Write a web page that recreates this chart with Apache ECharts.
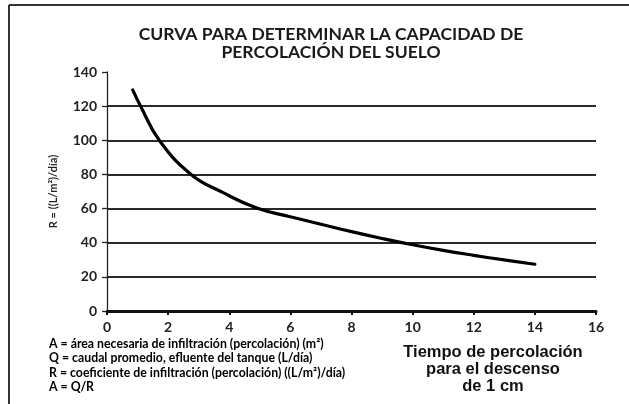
<!DOCTYPE html>
<html>
<head>
<meta charset="utf-8">
<script src="https://cdn.jsdelivr.net/npm/echarts@6/dist/echarts.min.js"></script>
<style>
  html, body { margin: 0; padding: 0; background: #fff; }
  #chart { width: 629px; height: 404px; }
</style>
</head>
<body>
<div id="chart"></div>
<script>
// Percolation time (min per 1 cm drop) and infiltration coefficient R
const tiempo = [0.84, 1.1, 1.71, 2.75, 3.8, 4.9, 6, 7, 8, 9, 10, 11, 12, 13, 14];
const coefR  = [129.5, 120, 100, 80, 69.3, 60.3, 55.2, 50.8, 46.5, 42.5, 38.8, 35.5, 32.6, 29.9, 27.4];

const yTicks = [0, 20, 40, 60, 80, 100, 120, 140];
const xTicks = [0, 2, 4, 6, 8, 10, 12, 14, 16];

const titulo = ['CURVA PARA DETERMINAR LA CAPACIDAD DE', 'PERCOLACIÓN DEL SUELO'];
const nombreY = 'R = ((L/m²)/día)';
const nombreX = ['Tiempo de percolación', 'para el descenso', 'de 1 cm'];
const notas = [
  'A = área necesaria de infiltración (percolación) (m²)',
  'Q = caudal promedio, efluente del tanque (L/día)',
  'R = coeficiente de infiltración (percolación) ((L/m²)/día)',
  'A = Q/R'
];

const chart = echarts.init(document.getElementById('chart'), null, { renderer: 'canvas' });

const fam = 'Lato';

// grid lines: one colour per tick, the top (140) line hidden
const gridColors = yTicks.map((v, i) => i === yTicks.length - 1 ? 'rgba(0,0,0,0)' : '#2a2a2a');

const notaGraphics = notas.map((t, i) => ({
  type: 'text',
  left: 49,
  top: 338 + i * 14.5,
  style: {
    text: t,
    font: 'bold 12.3px Lato',
    fontFamily: fam,
    fontWeight: 'bold',
    fontSize: 12.3,
    fill: '#000'
  }
}));

const nombreXGraphics = nombreX.map((t, i) => ({
  type: 'text',
  x: 493,
  y: 344 + i * 17,
  style: {
    text: t,
    fontFamily: '"Liberation Sans", Arial, sans-serif',
    fontWeight: 'bold',
    fontSize: 16.5,
    fill: '#111',
    align: 'center'
  }
}));

chart.setOption({
  animation: false,
  backgroundColor: '#fff',
  title: {
    text: titulo.join('\n'),
    left: 326,
    top: 20,
    textAlign: 'center',
    textStyle: { fontFamily: fam, fontWeight: 'bold', fontSize: 17.5, color: '#1a1a1a', lineHeight: 18 }
  },
  grid: { left: 107, right: 33, top: 72, bottom: 93, containLabel: false },
  xAxis: {
    type: 'value',
    min: 0, max: 16, interval: 2,
    axisLine: { show: true, lineStyle: { color: '#111', width: 3 } },
    axisTick: { show: true, length: 4, inside: false, lineStyle: { color: '#111', width: 2 } },
    axisLabel: {
      margin: 9,
      fontFamily: fam, fontWeight: 'bold', fontSize: 14, color: '#222',
      formatter: v => xTicks.includes(v) ? String(v) : ''
    },
    splitLine: { show: false }
  },
  yAxis: {
    type: 'value',
    min: 0, max: 140, interval: 20,
    name: nombreY,
    nameLocation: 'middle',
    nameGap: 48,
    nameRotate: 90,
    nameTextStyle: { fontFamily: fam, fontWeight: 'bold', fontSize: 11, color: '#222' },
    axisLine: { show: true, lineStyle: { color: '#222', width: 1.3 } },
    axisTick: { show: true, length: 5, lineStyle: { color: '#222', width: 1.3 } },
    axisLabel: {
      margin: 10,
      fontFamily: fam, fontWeight: 'bold', fontSize: 14, color: '#222',
      formatter: v => yTicks.includes(v) ? String(v) : ''
    },
    splitLine: { show: true, lineStyle: { color: gridColors, width: 2 } }
  },
  series: [{
    type: 'line',
    data: tiempo.map((t, i) => [t, coefR[i]]),
    smooth: 0.45,
    symbol: 'none',
    lineStyle: { color: '#000', width: 3.2, cap: 'round' },
    z: 5
  }],
  graphic: [
    // frame around the figure (top and left edges)
    { type: 'line', shape: { x1: 9, y1: 5, x2: 629, y2: 5 }, style: { stroke: '#333', lineWidth: 2 } },
    { type: 'line', shape: { x1: 9, y1: 5, x2: 9, y2: 404 }, style: { stroke: '#333', lineWidth: 2 } },
    ...notaGraphics,
    ...nombreXGraphics
  ]
});
</script>
</body>
</html>
